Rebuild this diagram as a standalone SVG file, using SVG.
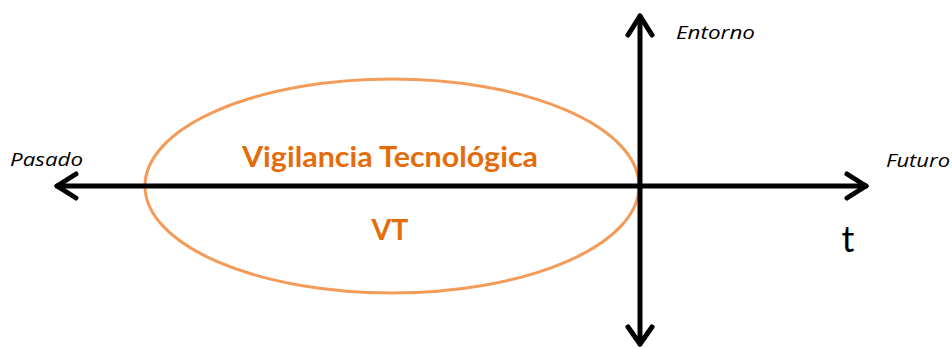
<svg xmlns="http://www.w3.org/2000/svg" width="952" height="348" viewBox="0 0 952 348">
<style>
.ax{stroke:#000;stroke-width:5;fill:none;stroke-linecap:round;stroke-linejoin:round}
.lbl{font-family:"Open Sans",Lato,sans-serif;font-style:italic;font-size:18px;fill:#000}
.vt{font-family:Lato,"Open Sans",sans-serif;font-weight:bold;fill:#E46C0A;text-anchor:middle}
</style>
<rect width="952" height="348" fill="#fff"/>
<g id="vt-ellipse">
<ellipse cx="392" cy="186" rx="247" ry="107" fill="none" stroke="#F39C5A" stroke-width="3"/>
<text class="vt" x="390" y="167" font-size="28.5" textLength="296" lengthAdjust="spacingAndGlyphs">Vigilancia Tecnológica</text>
<text class="vt" x="390" y="240" font-size="28.5">VT</text>
</g>
<g id="connectors">
<path class="ax" d="M57 186 H866"/>
<path class="ax" d="M76 174 L57 186 L76 198"/>
<path class="ax" d="M847 174 L866 186 L847 198"/>
<path class="ax" d="M640 16 V344"/>
<path class="ax" d="M628 35 L640 16 L652 35"/>
<path class="ax" d="M628 327 L640 344 L652 327"/>
</g>
<g id="labels">
<text class="lbl" x="10" y="166" textLength="73" lengthAdjust="spacingAndGlyphs">Pasado</text>
<text class="lbl" x="676" y="39" textLength="79" lengthAdjust="spacingAndGlyphs">Entorno</text>
<text class="lbl" x="886" y="167" textLength="64" lengthAdjust="spacingAndGlyphs">Futuro</text>
<text x="848" y="252" font-family="Lato,'Open Sans',sans-serif" font-size="36" text-anchor="middle">t</text>
</g>
</svg>
